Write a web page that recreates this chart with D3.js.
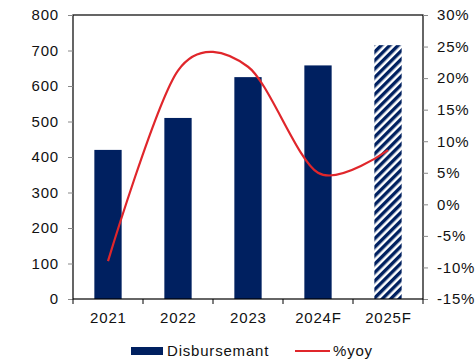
<!DOCTYPE html>
<html>
<head>
<meta charset="utf-8">
<script src="https://cdn.jsdelivr.net/npm/d3@7"></script>
<style>
  html, body { margin: 0; padding: 0; background: #fff; }
  svg { display: block; font-family: "Liberation Sans", Arial, sans-serif; }
</style>
</head>
<body>
<svg id="chart" width="476" height="360"></svg>
<script>
// Disbursement by year with year-on-year growth
const categories = ["2021", "2022", "2023", "2024F", "2025F"];
const disbursement = [420, 510, 625, 658, 715];
const yoy = [-9.0, 21.2, 21.8, 5.0, 8.6];
const forecastFlags = [false, false, false, false, true];
const leftTicks = [0, 100, 200, 300, 400, 500, 600, 700, 800];
const rightTicks = [-15, -10, -5, 0, 5, 10, 15, 20, 25, 30];

const navy = "#002060";
const red = "#E0262B";
const fontSize = 15;
const spacing = 0.8;

const svg = d3.select("#chart");
const margin = { left: 73, right: 53, top: 15, bottom: 61 };
const W = 476, H = 360;
const x0 = margin.left, x1 = W - margin.right;
const y0 = H - margin.bottom, y1 = margin.top;

const x = d3.scaleBand().domain(categories).range([x0, x1]).paddingInner(0.61).paddingOuter(0.305);
const yL = d3.scaleLinear().domain([0, 800]).range([y0, y1]);
const yR = d3.scaleLinear().domain([-15, 30]).range([y0, y1]);

// diagonal hatch for forecast bar
const defs = svg.append("defs");
const pat = defs.append("pattern")
  .attr("id", "hatch").attr("patternUnits", "userSpaceOnUse")
  .attr("width", 6).attr("height", 6)
  .attr("patternTransform", "rotate(45)");
pat.append("rect").attr("width", 6).attr("height", 6).attr("fill", "#fff");
pat.append("rect").attr("x", 0).attr("width", 3.4).attr("height", 6).attr("fill", navy);

// bars
svg.append("g").selectAll("rect")
  .data(categories)
  .join("rect")
  .attr("x", d => x(d))
  .attr("width", x.bandwidth())
  .attr("y", (d, i) => yL(disbursement[i]))
  .attr("height", (d, i) => y0 - yL(disbursement[i]))
  .attr("fill", (d, i) => forecastFlags[i] ? "url(#hatch)" : navy);

// plot frame
svg.append("rect")
  .attr("x", x0).attr("y", y1)
  .attr("width", x1 - x0).attr("height", y0 - y1)
  .attr("fill", "none").attr("stroke", "#000").attr("stroke-width", 1.2);

// left axis
const gL = svg.append("g").attr("transform", `translate(${x0},0)`)
  .call(d3.axisLeft(yL).tickValues(leftTicks).tickSize(5).tickPadding(9).tickFormat(d3.format("d")));
// right axis
const gR = svg.append("g").attr("transform", `translate(${x1},0)`)
  .call(d3.axisRight(yR).tickValues(rightTicks).tickSize(5).tickPadding(9).tickFormat(d => d + "%"));
[gL, gR].forEach(g => {
  g.select(".domain").remove();
  g.selectAll(".tick line").attr("stroke", "#888").attr("stroke-width", 1);
  g.selectAll("text").attr("font-size", fontSize).attr("letter-spacing", spacing).attr("fill", "#111");
});

// category axis: ticks at category boundaries
const boundaries = d3.range(categories.length + 1).map(i => x0 + i * x.step());
svg.append("g").selectAll("line")
  .data(boundaries)
  .join("line")
  .attr("x1", d => d).attr("x2", d => d)
  .attr("y1", y0).attr("y2", y0 + 5)
  .attr("stroke", "#000").attr("stroke-width", 1);
svg.append("g").selectAll("text")
  .data(categories)
  .join("text")
  .attr("x", d => x(d) + x.bandwidth() / 2 + spacing / 2)
  .attr("y", y0 + 24)
  .attr("text-anchor", "middle")
  .attr("font-size", fontSize).attr("letter-spacing", spacing).attr("fill", "#111")
  .text(d => d);

// growth line, smoothed
const line = d3.line()
  .x((d, i) => x(categories[i]) + x.bandwidth() / 2)
  .y(d => yR(d))
  .curve(d3.curveCardinal.tension(0.1));
svg.append("path")
  .datum(yoy)
  .attr("d", line)
  .attr("fill", "none")
  .attr("stroke", red)
  .attr("stroke-width", 2.2);

// legend
const lg = svg.append("g");
lg.append("rect").attr("x", 131).attr("y", 347).attr("width", 32).attr("height", 8).attr("fill", navy);
lg.append("text").attr("x", 167).attr("y", 356).attr("font-size", fontSize).attr("letter-spacing", spacing)
  .attr("fill", "#111").text("Disbursemant");
lg.append("line").attr("x1", 295).attr("x2", 330).attr("y1", 351).attr("y2", 351)
  .attr("stroke", red).attr("stroke-width", 2);
lg.append("text").attr("x", 333).attr("y", 356).attr("font-size", fontSize).attr("letter-spacing", spacing)
  .attr("fill", "#111").text("%yoy");
</script>
</body>
</html>
